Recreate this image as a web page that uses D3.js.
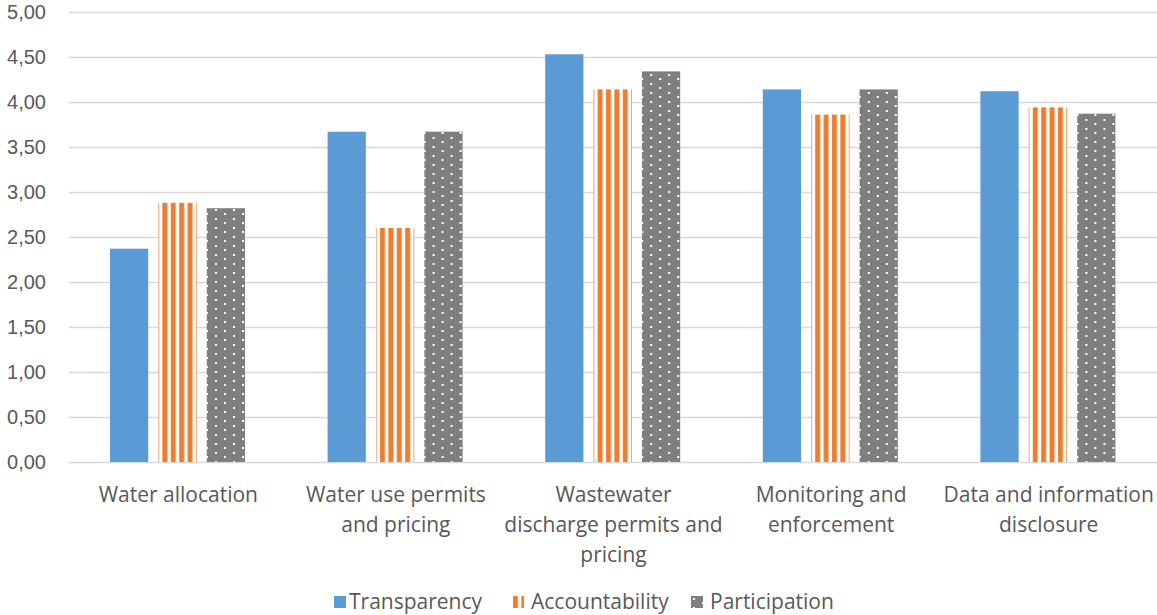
<!DOCTYPE html>
<html>
<head>
<meta charset="utf-8">
<script src="https://cdn.jsdelivr.net/npm/d3@7"></script>
<style>
  body { margin: 0; background: #fff; }
  svg { display: block; font-family: "Open Sans", sans-serif; }
  .tick text { fill: #595959; }
</style>
</head>
<body>
<div id="chart"></div>
<script>
{
  const { d3 } = window;

  const categories = [
    ['Water allocation'],
    ['Water use permits', 'and pricing'],
    ['Wastewater', 'discharge permits and', 'pricing'],
    ['Monitoring and', 'enforcement'],
    ['Data and information', 'disclosure'],
  ];
  const series = ['Transparency', 'Accountability', 'Participation'];
  const transparency = [2.37, 3.67, 4.53, 4.14, 4.12];
  const accountability = [2.88, 2.60, 4.14, 3.86, 3.94];
  const participation = [2.82, 3.67, 4.34, 4.14, 3.87];
  const yTicks = [0, 0.5, 1, 1.5, 2, 2.5, 3, 3.5, 4, 4.5, 5];

  const values = [transparency, accountability, participation];
  const width = 1157;
  const height = 615;

  const svg = d3.select('#chart').append('svg')
    .attr('width', width)
    .attr('height', height);

  const defs = svg.append('defs');

  // orange vertical stripes
  const stripes = defs.append('pattern')
    .attr('id', 'stripes')
    .attr('patternUnits', 'userSpaceOnUse')
    .attr('width', 8.4)
    .attr('height', 8);
  stripes.append('rect').attr('width', 8.4).attr('height', 8).attr('fill', '#fff');
  stripes.append('rect').attr('x', 1).attr('width', 5).attr('height', 8).attr('fill', '#ED7D31');

  // grey with white dots
  const dots = defs.append('pattern')
    .attr('id', 'dots')
    .attr('patternUnits', 'userSpaceOnUse')
    .attr('width', 18)
    .attr('height', 9);
  dots.append('rect').attr('width', 18).attr('height', 9).attr('fill', '#7F7F7F');
  dots.append('rect').attr('x', 2).attr('y', 2).attr('width', 2).attr('height', 2).attr('fill', '#fff');
  dots.append('rect').attr('x', 11).attr('y', 6).attr('width', 2).attr('height', 2).attr('fill', '#fff');

  const fills = ['#5B9BD5', 'url(#stripes)', 'url(#dots)'];

  const y = d3.scaleLinear().domain([0, 5]).range([462, 12]);
  const x0 = d3.scaleBand()
    .domain(d3.range(categories.length))
    .range([69, 1157]);
  const x1 = d3.scaleBand()
    .domain(d3.range(series.length))
    .range([41, 176])
    .paddingInner(0.21);

  // gridlines and y labels
  const yAxis = svg.append('g')
    .attr('transform', 'translate(69,0)')
    .call(d3.axisLeft(y)
      .tickValues(yTicks)
      .tickSize(-(1157 - 69))
      .tickFormat((d) => d3.format('.2f')(d).replace('.', ',')));
  yAxis.select('.domain').remove();
  yAxis.selectAll('.tick line').attr('stroke', '#D9D9D9').attr('stroke-width', 1.3);
  yAxis.selectAll('.tick text')
    .attr('x', -23)
    .style('font-size', '20px')
    .attr('text-anchor', 'end');

  // bars
  const groups = svg.append('g').selectAll('g')
    .data(categories)
    .join('g')
    .attr('transform', (d, i) => `translate(${x0(i)},0)`);

  groups.selectAll('rect')
    .data((d, i) => values.map((s, j) => ({ j, v: s[i] })))
    .join('rect')
    .attr('x', (d) => x1(d.j))
    .attr('width', x1.bandwidth())
    .attr('y', (d) => y(d.v))
    .attr('height', (d) => y(0) - y(d.v))
    .attr('fill', (d) => fills[d.j]);

  // category labels
  groups.append('text')
    .attr('text-anchor', 'middle')
    .attr('fill', '#595959')
    .style('font-size', '21px')
    .selectAll('tspan')
    .data((d) => d)
    .join('tspan')
    .attr('x', x0.bandwidth() / 2 + 0.5)
    .attr('y', (d, i) => 502 + i * 30)
    .text((d) => d);

  // legend
  const legendX = [334, 512, 691];
  const legend = svg.append('g').selectAll('g')
    .data(series)
    .join('g')
    .attr('transform', (d, i) => `translate(${legendX[i]},596)`);
  legend.append('rect')
    .attr('width', 12)
    .attr('height', 12)
    .attr('fill', (d, i) => fills[i]);
  legend.append('text')
    .attr('x', (d, i) => (i === 0 ? 15 : 19))
    .attr('y', 13)
    .attr('fill', '#595959')
    .style('font-size', '21px')
    .text((d) => d);
}
</script>
</body>
</html>
